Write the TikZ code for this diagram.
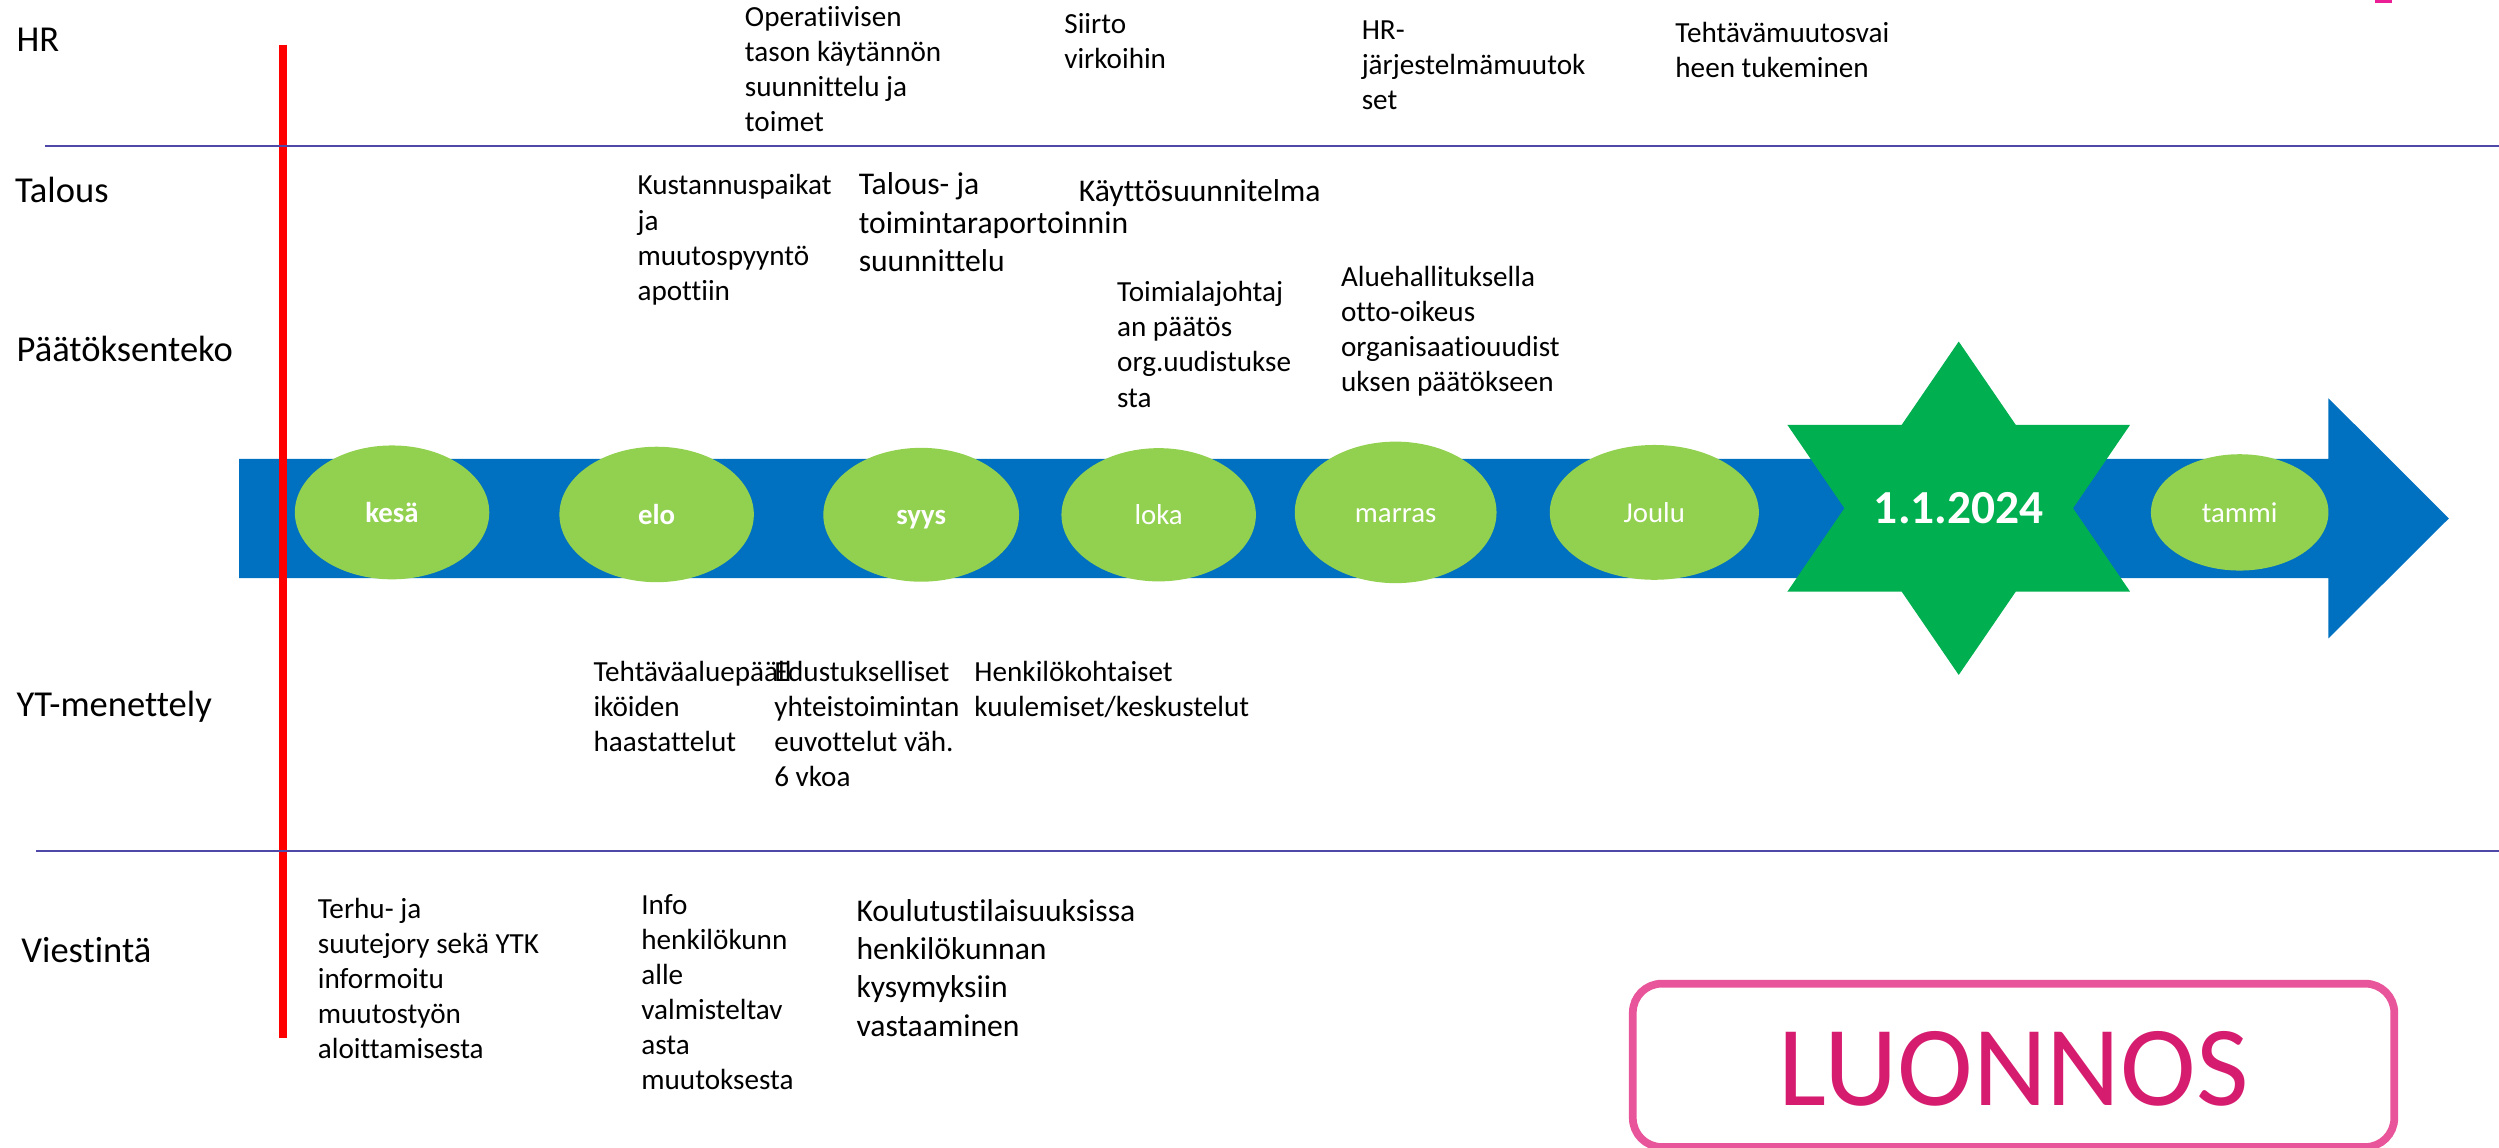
\documentclass[tikz,border=0pt]{standalone}
\usepackage{fontspec}
\setmainfont{Carlito}[Ligatures=NoCommon]
\usetikzlibrary{positioning}
\usetikzlibrary{shapes.geometric}
\definecolor{arrowblue}{RGB}{0,112,192}
\definecolor{monthgreen}{RGB}{146,208,80}
\definecolor{stargreen}{RGB}{0,176,80}
\definecolor{laneline}{RGB}{80,72,168}
\definecolor{draftpink}{RGB}{232,85,154}
\definecolor{drafttext}{RGB}{214,28,110}
\definecolor{cutpink}{RGB}{236,30,150}
\tikzstyle{lane}=[anchor=base west, inner sep=0pt, font=\fontsize{10.4}{12.5}\selectfont]
\tikzstyle{task}=[anchor=base west, inner sep=0pt, align=left, font=\fontsize{8.3}{10}\selectfont]
\tikzstyle{bigtask}=[task, font=\fontsize{9}{10.9}\selectfont]
\tikzstyle{month}=[ellipse, fill=monthgreen, inner sep=0pt, text=white, font=\fontsize{8.2}{10}\selectfont, text height=5.8pt, text depth=0pt]
\tikzstyle{divider}=[draw=laneline, line width=0.5pt]

\begin{document}
\begin{tikzpicture}[x=0.015944cm, y=-0.015944cm]

  \def\u{0.015944cm};
  \useasboundingbox (0,0) rectangle (1568,720.3);

  % timeline arrow
  \fill[arrowblue] (150,288) -- (1461,288) -- (1461,249.9) -- (1536.5,325.3) -- (1461,400.5) -- (1461,362.8) -- (150,362.8) -- cycle;

  % now line and lane dividers
  \coordinate (nowtop) at (177.5,28);
  \coordinate (nowbot) at (177.5,651);
  \draw[red, line width=2.1pt] (nowtop) -- (nowbot);

  \coordinate (hrL) at (28.2,91.5);
  \coordinate (hrR) at (1568,91.5);
  \coordinate (ytL) at (22.5,534);
  \coordinate (ytR) at (1568,534);
  \draw[divider] (hrL) -- (hrR);
  \draw[divider] (ytL) -- (ytR);

  \foreach \x/\y/\w/\h/\name/\label in {246/321.5/122/84/kesa/{\bfseries kesä}, 412/322.8/122/85/elo/{\bfseries elo}, 578/323/122.8/84/syys/{\bfseries syys}, 727/323/122/83.6/loka/loka, 875.7/321.5/126.6/88.8/marras/marras, 1038/321.5/131.2/84.6/joulu/Joulu, 1405.3/321.5/111.4/73/tammi/tammi}
          \node[month, minimum width=\w*\u, minimum height=\h*\u] (\name) at (\x,\y) {\label};

  % star of the new year
  \coordinate (star) at (1229,318.9);
  \begin{scope}[shift={(star)}]
    \fill[stargreen] (0,-104.6) -- (35.8,-52.3) -- (107.5,-52.3) -- (71.7,0) -- (107.5,52.3) -- (35.8,52.3) -- (0,104.6) -- (-35.8,52.3) -- (-107.5,52.3) -- (-71.7,0) -- (-107.5,-52.3) -- (-35.8,-52.3) -- cycle;
  \end{scope}
  \node[inner sep=0pt, text=white, font=\fontsize{13.5}{16}\selectfont\bfseries, text height=8.9pt, text depth=0pt] (newyear) at (star) {1.1.2024};

  \foreach \x/\y/\name/\label in {10/32.5/hr/HR, 9/127/talous/Talous, 10/227/paatos/Päätöksenteko, 10/449.5/yt/YT-menettely, 13/604/viestinta/Viestintä}
          \node[lane] (\name) at (\x,\y) {\label};

  % y = baseline of the last line
  \foreach \x/\y/\name/\label in {467/82.8/operat/{Operatiivisen\\tason käytännön\\suunnittelu ja\\toimet}, 667.4/43/siirto/{Siirto\\virkoihin}, 854/68.6/hrjarj/{HR-\\järjestelmämuutok\\set}, 1050.8/48.6/tukem/{Tehtävämuutosvai\\heen tukeminen}, 399.6/188.4/kustan/{Kustannuspaikat\\ja\\muutospyyntö\\apottiin}, 700.5/255.4/toimi/{Toimialajohtaj\\an päätös\\org.uudistukse\\sta}, 841/245.9/alueh/{Aluehallituksella\\otto-oikeus\\organisaatiouudist\\uksen päätökseen}, 372/471.7/haast/{Tehtäväaluepääll\\iköiden\\haastattelut}, 485.4/493.7/edust/{Edustukselliset\\yhteistoimintan\\euvottelut väh.\\6 vkoa}, 611/449.6/kuul/{Henkilökohtaiset\\kuulemiset/keskustelut}, 199/664.2/terhu/{Terhu- ja\\suutejory sekä YTK\\informoitu\\muutostyön\\aloittamisesta}, 402/683.7/info/{Info\\henkilökunn\\alle\\valmisteltav\\asta\\muutoksesta}}
          \node[task] (\name) at (\x,\y) {\label};

  \foreach \x/\y/\name/\label in {538.4/170.3/raport/{Talous- ja\\toimintaraportoinnin\\suunnittelu}, 676.5/126.5/kaytto/{Käyttösuunnitelma}, 537/650.1/koulut/{Koulutustilaisuuksissa\\henkilökunnan\\kysymyksiin\\vastaaminen}}
          \node[bigtask] (\name) at (\x,\y) {\label};

  % draft stamp
  \node[draw=draftpink, line width=2.2pt, rounded corners=0.29cm, minimum width=477.8*\u, minimum height=102.5*\u, inner sep=0pt, text=drafttext, font=\fontsize{32.5}{36}\selectfont, text height=23.1pt, text depth=0pt] (draft) at (1263.4,668.45) {LUONNOS};
  \fill[cutpink] (1490,0) rectangle (1501,1.6);

\end{tikzpicture}
\end{document}
